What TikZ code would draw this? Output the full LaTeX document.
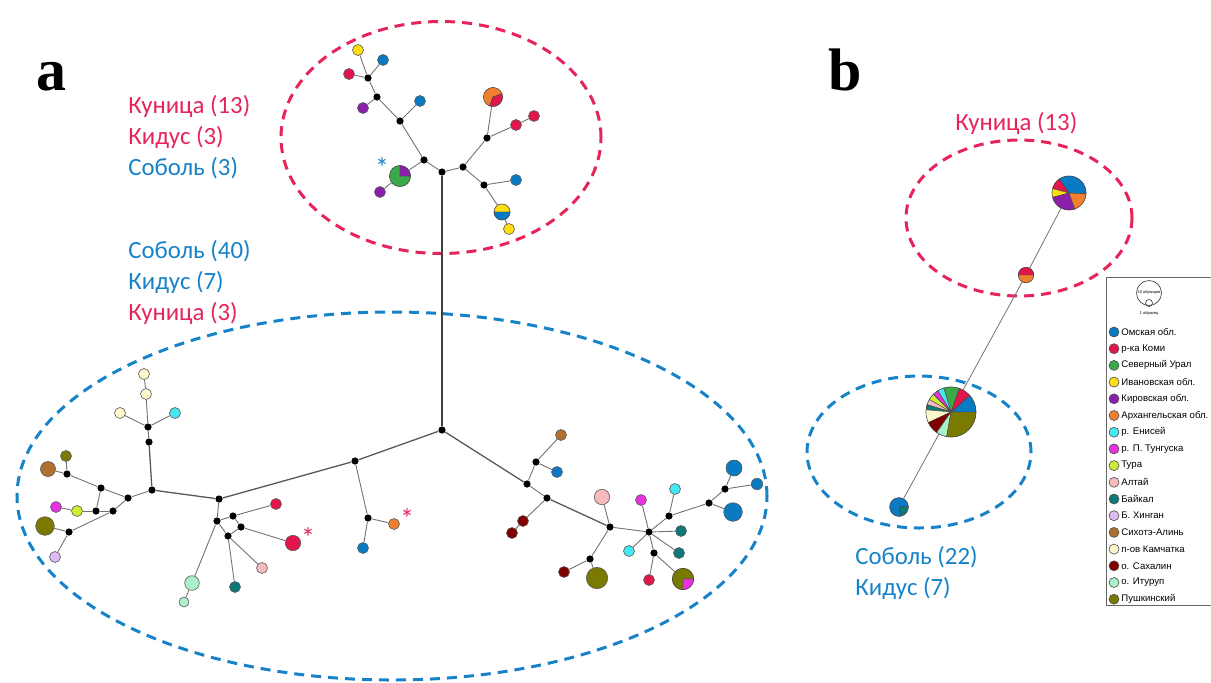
\documentclass[tikz,border=0pt]{standalone}
\usepackage{fontspec}
\setmainfont{Carlito}
\newfontfamily\lgfont{Liberation Sans}
\newfontfamily\lbfont{Liberation Serif}
\definecolor{cOm}{RGB}{10,122,196}
\definecolor{cKo}{RGB}{226,22,76}
\definecolor{cSU}{RGB}{58,170,72}
\definecolor{cIv}{RGB}{255,222,20}
\definecolor{cKi}{RGB}{138,32,170}
\definecolor{cAr}{RGB}{240,128,48}
\definecolor{cYe}{RGB}{70,232,240}
\definecolor{cPT}{RGB}{232,50,224}
\definecolor{cTu}{RGB}{204,238,51}
\definecolor{cAl}{RGB}{248,186,186}
\definecolor{cBa}{RGB}{12,122,120}
\definecolor{cHi}{RGB}{222,186,242}
\definecolor{cSi}{RGB}{176,112,48}
\definecolor{cKa}{RGB}{255,248,204}
\definecolor{cSa}{RGB}{128,0,0}
\definecolor{cIt}{RGB}{170,240,200}
\definecolor{cPu}{RGB}{122,122,0}
\definecolor{tRed}{RGB}{230,36,90}
\definecolor{tBlue}{RGB}{22,130,200}
\newcommand\pslice[5]{\filldraw[fill=#5,draw=black!75,line width=0.2pt] (#1.center) -- ++(#2:#4) arc[start angle=#2,end angle=#3,radius=#4] -- cycle;}
\tikzset{
  jn/.style={circle, fill=black, inner sep=0pt, minimum size=3.6pt},
  hp/.style={circle, draw=black!65, line width=0.3pt, inner sep=0pt, minimum size=5.5pt},
  ed/.style={draw=black!55, line width=0.45pt},
  edl/.style={draw=black!65, line width=0.65pt},
  edv/.style={draw=black!75, line width=1.1pt},
  lab/.style={anchor=base west, inner sep=0pt, font=\fontsize{12.4pt}{15pt}\selectfont},
  rdash/.style={draw=tRed, line width=1.5pt, dash pattern=on 5pt off 3.5pt},
  bdash/.style={draw=tBlue, line width=1.5pt, dash pattern=on 5pt off 3.5pt},
  lgd/.style={circle, draw=black!70, line width=0.3pt, inner sep=0pt, minimum size=5pt},
  lgt/.style={anchor=west, inner sep=0pt, font=\lgfont\fontsize{4.8pt}{5pt}\selectfont},
  ast/.style={inner sep=0pt, font=\fontsize{14pt}{14pt}\selectfont}
}
\begin{document}
\begin{tikzpicture}[x=0.5pt,y=-0.5pt]
\useasboundingbox (0,0) rectangle (1211,682);
% ellipses
\draw[rdash] (441,137.5) ellipse [x radius=80pt, y radius=58pt];
\draw[bdash] (392,496) ellipse [x radius=187.5pt, y radius=92pt];
\draw[rdash] (1019,218) ellipse [x radius=56.5pt, y radius=39pt];
\draw[bdash] (919,452) ellipse [x radius=56pt, y radius=38pt];
% labels
\node[font=\lbfont\bfseries\fontsize{30pt}{30pt}\selectfont, anchor=base west, inner sep=0pt] (pa) at (36,90) {a};
\node[font=\lbfont\bfseries\fontsize{30pt}{30pt}\selectfont, anchor=base west, inner sep=0pt] (pb) at (828,90) {b};
\node[lab,text=tRed] (la1) at (128,113) {Куница (13)};
\node[lab,text=tRed] (la2) at (128,144) {Кидус (3)};
\node[lab,text=tBlue] (la3) at (128,175) {Соболь (3)};
\node[lab,text=tBlue] (la4) at (128,258) {Соболь (40)};
\node[lab,text=tBlue] (la5) at (128,289) {Кидус (7)};
\node[lab,text=tRed] (la6) at (128,320) {Куница (3)};
\node[lab,text=tRed] (lb1) at (955,130) {Куница (13)};
\node[lab,text=tBlue] (lb2) at (855,564) {Соболь (22)};
\node[lab,text=tBlue] (lb3) at (855,595) {Кидус (7)};
% junctions
\foreach \n/\p in {J1/{368,78},J2/{377,97},J3/{400,121},J4/{424,160},J5/{442,172},J6/{463,167},J7/{487,138},J8/{484,185},
  C/{442,430},L1/{355,461},L2/{368,518},M/{219,499},
  W1/{152,490},W2/{149,442},W3/{148,427},W4/{128,498},W5/{101,488},W6/{67,474},W7/{113,511},W8/{96,511},W9/{69,532},
  S1/{233,516},S2/{217,521},S3/{241,527},S4/{228,536},
  R1/{527,484},R2/{536,462},R3/{547,498},R4/{610,527},R5/{590,559},R6/{649,532},R7/{669,516},R8/{654,553},R9/{709,503},R10/{725,489}}
  \node[jn] (\n) at (\p) {};
% top haplotypes
\node[hp,fill=cIv] (tY1) at (358,50) {};
\node[hp,fill=cOm] (tB1) at (383,60) {};
\node[hp,fill=cKo] (tR1) at (349,74) {};
\node[hp,fill=cKi] (tP1) at (363,108) {};
\node[hp,fill=cOm] (tB2) at (420,101) {};
\node[hp,minimum size=10.5pt] (tPie) at (400,176) {};
\pslice{tPie}{90}{360}{5.25pt}{cSU}\pslice{tPie}{0}{90}{5.25pt}{cKi}
\node[hp,fill=cKi] (tP2) at (380,192) {};
\node[hp,minimum size=9.5pt] (tOR) at (493,97) {};
\pslice{tOR}{20}{250}{4.75pt}{cAr}\pslice{tOR}{-110}{20}{4.75pt}{cKo}
\node[hp,fill=cKo] (tR2) at (516,125) {};
\node[hp,fill=cKo] (tR3) at (534,116) {};
\node[hp,fill=cOm] (tB3) at (516,180) {};
\node[hp,minimum size=8pt] (tYB) at (502,212) {};
\pslice{tYB}{0}{180}{4pt}{cIv}\pslice{tYB}{180}{360}{4pt}{cOm}
\node[hp,fill=cIv] (tY2) at (509,229) {};
% left haplotypes
\node[hp,fill=cKa] (lC1) at (144,374) {};
\node[hp,fill=cKa] (lC2) at (146,394) {};
\node[hp,fill=cKa] (lC3) at (120,413) {};
\node[hp,fill=cYe] (lCy) at (175,413) {};
\node[hp,fill=cPu] (lOl) at (66,456) {};
\node[hp,fill=cSi,minimum size=7.5pt] (lBr) at (48,469) {};
\node[hp,fill=cTu] (lYg) at (77,511) {};
\node[hp,fill=cPT] (lMg) at (56,507) {};
\node[hp,fill=cPu,minimum size=9.3pt] (lOl2) at (45,526) {};
\node[hp,fill=cHi] (lLv) at (55,557) {};
\node[hp,fill=cKo] (sR1) at (276,504) {};
\node[hp,fill=cKo,minimum size=7.7pt] (sR2) at (293,543) {};
\node[hp,fill=cAl] (sPk) at (262,568) {};
\node[hp,fill=cBa] (sTl) at (235,587) {};
\node[hp,fill=cIt,minimum size=7.3pt] (sLg1) at (192,583) {};
\node[hp,fill=cIt,minimum size=5pt] (sLg2) at (184,602) {};
\node[hp,fill=cAr] (mOr) at (394,524) {};
\node[hp,fill=cOm] (mBl) at (363,548) {};
% right haplotypes
\node[hp,fill=cSi] (rBr) at (561,435) {};
\node[hp,fill=cOm] (rBl) at (557,472) {};
\node[hp,fill=cSa] (rDr1) at (523,521) {};
\node[hp,fill=cSa] (rDr2) at (512,533) {};
\node[hp,fill=cAl,minimum size=7.7pt] (rPk) at (602,497) {};
\node[hp,fill=cSa] (rDr3) at (564,572) {};
\node[hp,fill=cPu,minimum size=10.7pt] (rOl) at (597,578) {};
\node[hp,fill=cPT] (rMg) at (641,500) {};
\node[hp,fill=cYe] (rCy1) at (675,489) {};
\node[hp,fill=cBa] (rTl1) at (681,531) {};
\node[hp,fill=cBa] (rTl2) at (679,553) {};
\node[hp,fill=cYe] (rCy2) at (629,551) {};
\node[hp,fill=cKo] (rR) at (649,580) {};
\node[hp,minimum size=10.7pt] (rOM) at (683,579) {};
\pslice{rOM}{0}{270}{5.35pt}{cPu}\pslice{rOM}{-90}{0}{5.35pt}{cPT}
\node[hp,fill=cOm,minimum size=8pt] (rBl1) at (734,468) {};
\node[hp,fill=cOm,minimum size=5.7pt] (rBl2) at (757,484) {};
\node[hp,fill=cOm,minimum size=9.3pt] (rBl3) at (733,512) {};
% asterisks
\node[ast,text=tBlue] (as1) at (382,168) {*};
\node[ast,text=tRed] (as2) at (308,538) {*};
\node[ast,text=tRed] (as3) at (407,519) {*};
% edges
\foreach \a/\b in {J1/tY1,J1/tB1,J1/tR1,J1/J2,J2/tP1,J2/J3,J3/tB2,J3/J4,J4/tPie,tPie/tP2,J4/J5,J5/J6,J6/J7,J7/tOR,J7/tR2,tR2/tR3,J6/J8,J8/tB3,J8/tYB,tYB/tY2,
  L1/L2,L2/mOr,L2/mBl,W2/W3,W3/lC2,lC2/lC1,W3/lC3,W3/lCy,W1/W4,W4/W5,W5/W6,W6/lOl,W6/lBr,W5/W8,W4/W7,W7/W8,W8/lYg,lYg/lMg,W7/W9,W9/lOl2,W9/lLv,
  M/S2,S2/S1,S1/S3,S3/S4,S4/S2,S1/sR1,S3/sR2,S4/sPk,S4/sTl,S2/sLg1,sLg1/sLg2,
  R1/R2,R2/rBr,R2/rBl,R1/R3,R3/rDr1,rDr1/rDr2,R4/rPk,R4/R5,R5/rDr3,R5/rOl,R4/R6,R6/rMg,R6/R7,R7/rCy1,R7/R9,R9/R10,R10/rBl1,R10/rBl2,R9/rBl3,R6/rTl1,R6/rTl2,R6/rCy2,R6/R8,R8/rR,R8/rOM}
  \draw[ed] (\a) -- (\b);
\foreach \a/\b in {C/L1,L1/M,M/W1,W1/W2,C/R1,R3/R4}
  \draw[edl] (\a) -- (\b);
\draw[edv] (J5) -- (C);
% panel b
\node[hp,minimum size=17pt] (bTop) at (1069,193) {};
\pslice{bTop}{-3}{125}{8.5pt}{cOm}\pslice{bTop}{125}{165}{8.5pt}{cKo}\pslice{bTop}{165}{195}{8.5pt}{cIv}\pslice{bTop}{195}{290}{8.5pt}{cKi}\pslice{bTop}{290}{357}{8.5pt}{cAr}
\node[hp,minimum size=7.7pt] (bMid) at (1026,275) {};
\pslice{bMid}{0}{180}{3.85pt}{cKo}\pslice{bMid}{180}{360}{3.85pt}{cAr}
\node[hp,minimum size=25pt] (bBig) at (951,412) {};
\pslice{bBig}{0}{42}{12.5pt}{cOm}\pslice{bBig}{42}{71}{12.5pt}{cKo}\pslice{bBig}{71}{107}{12.5pt}{cSU}\pslice{bBig}{107}{122}{12.5pt}{cYe}
\pslice{bBig}{122}{135}{12.5pt}{cPT}\pslice{bBig}{135}{150}{12.5pt}{cTu}\pslice{bBig}{150}{163}{12.5pt}{cAl}\pslice{bBig}{163}{175}{12.5pt}{cBa}
\pslice{bBig}{175}{205}{12.5pt}{cKa}\pslice{bBig}{205}{235}{12.5pt}{cSa}\pslice{bBig}{235}{260}{12.5pt}{cIt}\pslice{bBig}{260}{360}{12.5pt}{cPu}
\node[hp,minimum size=9.3pt] (bBot) at (899,507) {};
\pslice{bBot}{5}{280}{4.65pt}{cOm}\pslice{bBot}{-80}{5}{4.65pt}{cBa}
\foreach \a/\b in {bBot/bBig,bBig/bMid,bMid/bTop}
  \draw[draw=black!55, line width=0.4pt] (\a) -- (\b);
% legend
\draw[draw=black!60, line width=0.4pt] (1106,277) rectangle (1240,605);
\node[circle, draw=black!80, line width=0.3pt, inner sep=0pt, minimum size=12.5pt] (szB) at (1149,293) {};
\node[circle, draw=black!80, line width=0.3pt, inner sep=0pt, minimum size=3.5pt] (szS) at (1149,303) {};
\node[inner sep=0pt, font=\lgfont\fontsize{2pt}{2pt}\selectfont] (szBt) at (1149,292) {10 образцов};
\node[inner sep=0pt, font=\lgfont\fontsize{2pt}{2pt}\selectfont] (szSt) at (1149,313) {1 образец};
\foreach \c/\t [count=\i from 0] in {cOm/Омская обл.,cKo/р-ка Коми,cSU/Северный Урал,cIv/Ивановская обл.,cKi/Кировская обл.,cAr/Архангельская обл.,cYe/р. Енисей,cPT/р. П. Тунгуска,cTu/Тура,cAl/Алтай,cBa/Байкал,cHi/Б. Хинган,cSi/Сихотэ-Алинь,cKa/п-ов Камчатка,cSa/о. Сахалин,cIt/о. Итуруп,cPu/Пушкинский}
{
  \node[lgd,fill=\c] (lg\i) at (1114,{332+16.7*\i}) {};
  \node[lgt] (lt\i) at (1121,{332+16.7*\i}) {\t};
}
\end{tikzpicture}
\end{document}
